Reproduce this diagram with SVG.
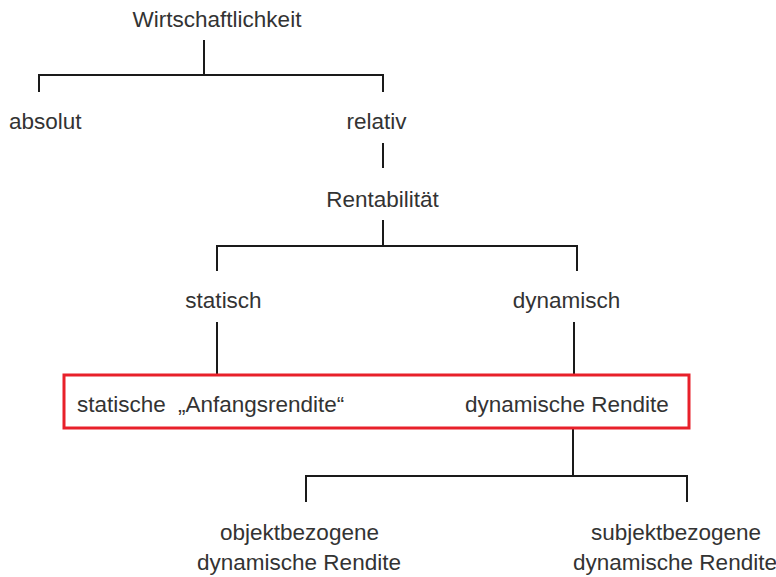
<svg xmlns="http://www.w3.org/2000/svg" width="776" height="577" viewBox="0 0 776 577">
<style>
text{font-family:"Liberation Sans",Arial,sans-serif;font-size:22.5px;fill:#333}
.m{text-anchor:middle}
.c{fill:none;stroke:#1a1a1a;stroke-width:2}
</style>
<rect width="776" height="577" fill="#fff"/>
<g id="connectors">
<path class="c" d="M204,40V75M39,92V75H383V92"/>
<path class="c" d="M383,143V168"/>
<path class="c" d="M383,220V246M217,271V246H577V271"/>
<path class="c" d="M217,322V375M574,322V375"/>
<path class="c" d="M573,428V476M306,502V476H687V502"/>
</g>
<g id="n-wirtschaftlichkeit"><text class="m" x="217" y="27">Wirtschaftlichkeit</text></g>
<g id="n-absolut"><text x="9" y="129">absolut</text></g>
<g id="n-relativ"><text class="m" x="376.5" y="129">relativ</text></g>
<g id="n-rentabilitaet"><text class="m" x="382.5" y="207">Rentabilität</text></g>
<g id="n-statisch"><text class="m" x="223.5" y="308">statisch</text></g>
<g id="n-dynamisch"><text class="m" x="566.5" y="308">dynamisch</text></g>
<g id="n-box">
<rect x="64" y="375" width="625" height="53" fill="none" stroke="#e8202a" stroke-width="3"/>
<text x="77" y="412">statische <tspan x="178">„Anfangsrendite“</tspan></text>
<text x="465" y="412">dynamische Rendite</text>
</g>
<g id="n-objekt"><text class="m" x="299.5" y="540">objektbezogene</text><text class="m" x="299" y="570">dynamische Rendite</text></g>
<g id="n-subjekt"><text class="m" x="676" y="540">subjektbezogene</text><text class="m" x="675" y="570">dynamische Rendite</text></g>
</svg>
